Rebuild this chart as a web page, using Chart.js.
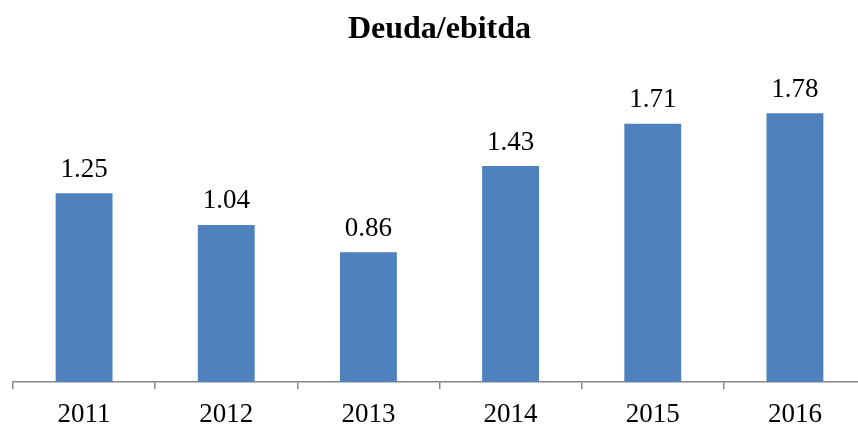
<!DOCTYPE html>
<html>
<head>
<meta charset="utf-8">
<script src="https://cdn.jsdelivr.net/npm/chart.js@4/dist/chart.umd.min.js"></script>
<style>
html,body{margin:0;padding:0;background:#fff;overflow:hidden;}
#wrap{width:858px;height:424px;position:relative;overflow:hidden;}
canvas{display:block;}
</style>
</head>
<body>
<div id="wrap"><canvas id="c" width="868" height="424"></canvas></div>
<script>
const categories = ["2011", "2012", "2013", "2014", "2015", "2016"];
const values = [1.25, 1.04, 0.86, 1.43, 1.71, 1.78];
const labelsText = ["1.25", "1.04", "0.86", "1.43", "1.71", "1.78"];
const titleText = "Deuda/ebitda";

const SERIF = '"Liberation Serif", "Times New Roman", serif';

const valueLabels = {
  id: 'valueLabels',
  afterDatasetsDraw(chart) {
    const ctx = chart.ctx;
    const meta = chart.getDatasetMeta(0);
    ctx.save();
    ctx.font = '27px ' + SERIF;
    ctx.fillStyle = '#000';
    ctx.textAlign = 'center';
    ctx.textBaseline = 'alphabetic';
    meta.data.forEach((bar, i) => {
      ctx.fillText(labelsText[i], bar.x, bar.y - 16.5);
    });
    ctx.restore();
  }
};

new Chart(document.getElementById('c'), {
  type: 'bar',
  data: {
    labels: categories,
    datasets: [{
      data: values,
      backgroundColor: '#4F81BD',
      borderWidth: 0,
      categoryPercentage: 1,
      barPercentage: 0.4
    }]
  },
  options: {
    responsive: false,
    animation: false,
    devicePixelRatio: 1,
    layout: { padding: { left: 13, right: 2, top: 0, bottom: 0 } },
    plugins: {
      legend: { display: false },
      tooltip: { enabled: false },
      title: {
        display: true,
        text: titleText,
        color: '#000',
        font: { family: SERIF, size: 32, weight: 'bold', lineHeight: 1.2 },
        padding: { top: 10.3, bottom: 31.3 }
      }
    },
    scales: {
      y: { display: false, min: 0, max: 2 },
      x: {
        offset: true,
        border: { display: true, color: '#868686', width: 1.5 },
        grid: {
          display: true,
          offset: true,
          drawOnChartArea: false,
          drawTicks: true,
          tickLength: 7,
          color: '#868686',
          lineWidth: 1.5
        },
        ticks: {
          color: '#000',
          padding: 12,
          font: { family: SERIF, size: 27, lineHeight: 1 }
        },
        afterFit(scale) { scale.height = 42; }
      }
    }
  },
  plugins: [valueLabels]
});
</script>
</body>
</html>
